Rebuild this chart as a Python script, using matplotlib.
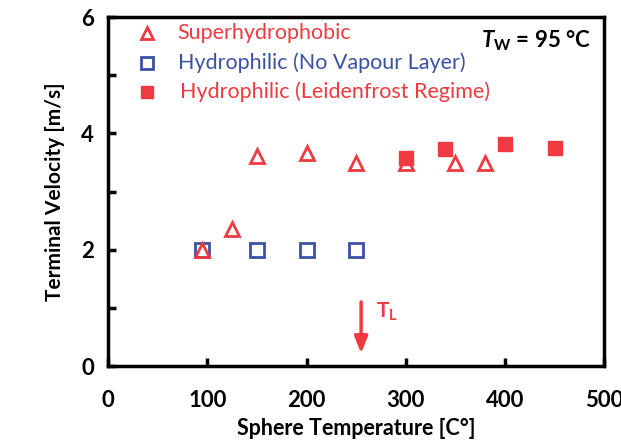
import numpy as np
import matplotlib
matplotlib.use("Agg")
import matplotlib.pyplot as plt

plt.rcParams['font.family'] = ['Lato', 'DejaVu Sans']
plt.rcParams['mathtext.fontset'] = 'custom'
plt.rcParams['mathtext.rm'] = 'Lato'
plt.rcParams['mathtext.bf'] = 'Lato:bold'
plt.rcParams['mathtext.it'] = 'Lato:italic'
plt.rcParams['mathtext.bfit'] = 'Lato:bold:italic'

# superhydrophobic sphere
shp_T = [95, 125, 150, 200, 250, 300, 350, 380]
shp_v = [2.0, 2.35, 3.61, 3.66, 3.49, 3.49, 3.49, 3.49]
# hydrophilic, no vapour layer
hyd_T = [95, 150, 200, 250]
hyd_v = [2.0, 2.0, 2.0, 2.0]
# hydrophilic, Leidenfrost regime
lei_T = [300, 340, 400, 450]
lei_v = [3.58, 3.74, 3.82, 3.75]

T_L = 255

red = '#ee3a40'
blue = '#3b52a3'

fig = plt.figure(figsize=(6.21, 4.41), dpi=100)
ax = fig.add_axes([0.174, 0.170, 0.799, 0.791])

ax.plot(shp_T, shp_v, ls='none', marker='^', ms=10, mfc='none', mec=red, mew=2, zorder=4)
ax.plot(hyd_T, hyd_v, ls='none', marker='s', ms=10, mfc='none', mec=blue, mew=2, zorder=3)
ax.plot(lei_T, lei_v, ls='none', marker='s', ms=10, mfc=red, mec=red, zorder=3)

ax.set_xlim(0, 500)
ax.set_ylim(0, 6)
ax.set_xticks(np.arange(0, 501, 100))
ax.set_yticks(np.arange(0, 7, 2))
ax.set_yticks([1, 3, 5], minor=True)
ax.tick_params(which='both', direction='in', width=2.5, length=6, labelsize=16, pad=10)
for lab in ax.get_xticklabels() + ax.get_yticklabels():
    lab.set_fontweight('bold')
ax.tick_params(axis='x', pad=17)
for s in ax.spines.values():
    s.set_linewidth(2.5)

ax.set_xlabel('Sphere Temperature [C°]', fontsize=15.5, fontweight='bold', labelpad=5)
ax.set_ylabel('Terminal Velocity [m/s]', fontsize=15, fontweight='bold', labelpad=12)

# legend written by hand
ax.plot(39, 5.72, marker='^', ms=9, mfc='none', mec=red, mew=2, clip_on=False)
ax.plot(39, 5.22, marker='s', ms=9, mfc='none', mec=blue, mew=2, clip_on=False)
ax.plot(39, 4.72, marker='s', ms=9, mfc=red, mec=red, clip_on=False)
ax.text(70, 5.72, 'Superhydrophobic', color=red, fontsize=15.5, va='center')
ax.text(70, 5.22, 'Hydrophilic (No Vapour Layer)', color=blue, fontsize=15.5, va='center')
ax.text(72, 4.72, 'Hydrophilic (Leidenfrost Regime)', color=red, fontsize=15.5, va='center')
ax.text(487, 5.6, r'$\mathbfit{T}_\mathbf{W}$ = 95 °C', fontsize=16, fontweight='bold',
        ha='right', va='center')

ax.annotate('', xy=(T_L, 0.17), xytext=(T_L, 1.15),
            arrowprops=dict(arrowstyle='-|>,head_width=0.4,head_length=1.0', color=red, lw=2.5))
ax.text(270, 0.93, r'T$_\mathbf{L}$', color=red, fontsize=15, fontweight='bold', va='center')

fig.savefig('out.png', dpi=100)
